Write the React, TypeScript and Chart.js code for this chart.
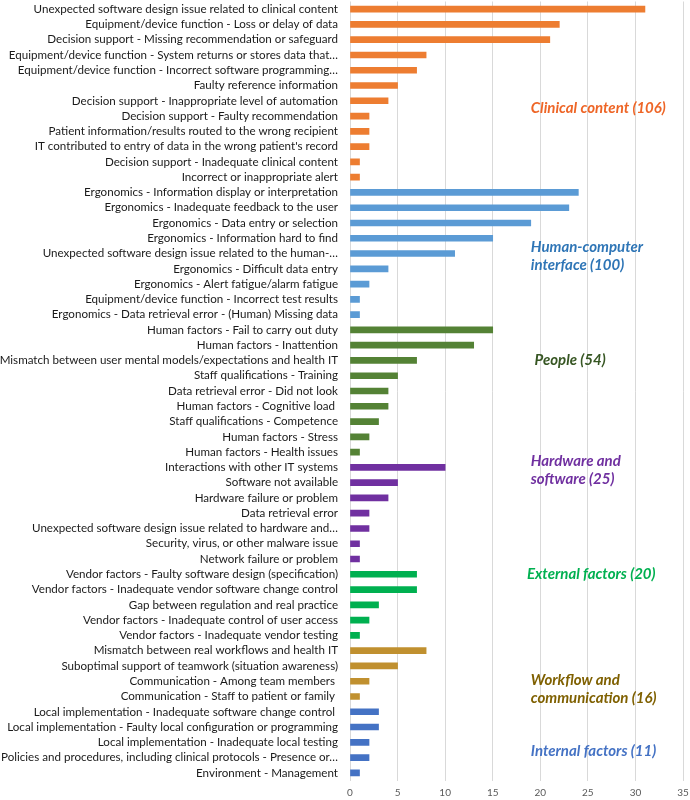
import React, { useEffect, useRef } from "react";
import { Chart, registerables } from "chart.js";

Chart.register(...registerables);

const clinicalLabels = [
  "Unexpected software design issue related to clinical content",
  "Equipment/device function - Loss or delay of data",
  "Decision support - Missing recommendation or safeguard",
  "Equipment/device function - System returns or stores data that…",
  "Equipment/device function - Incorrect software programming…",
  "Faulty reference information",
  "Decision support - Inappropriate level of automation",
  "Decision support - Faulty recommendation",
  "Patient information/results routed to the wrong recipient",
  "IT contributed to entry of data in the wrong patient's record",
  "Decision support - Inadequate clinical content",
  "Incorrect or inappropriate alert",
];
const clinicalValues = [31, 22, 21, 8, 7, 5, 4, 2, 2, 2, 1, 1];

const hciLabels = [
  "Ergonomics - Information display or interpretation",
  "Ergonomics - Inadequate feedback to the user",
  "Ergonomics - Data entry or selection",
  "Ergonomics - Information hard to find",
  "Unexpected software design issue related to the human-…",
  "Ergonomics - Difficult data entry",
  "Ergonomics - Alert fatigue/alarm fatigue",
  "Equipment/device function - Incorrect test results",
  "Ergonomics - Data retrieval error - (Human) Missing data",
];
const hciValues = [24, 23, 19, 15, 11, 4, 2, 1, 1];

const peopleLabels = [
  "Human factors - Fail to carry out duty",
  "Human factors - Inattention",
  "Mismatch between user mental models/expectations and health IT",
  "Staff qualifications - Training",
  "Data retrieval error - Did not look",
  "Human factors - Cognitive load ",
  "Staff qualifications - Competence",
  "Human factors - Stress",
  "Human factors - Health issues",
];
const peopleValues = [15, 13, 7, 5, 4, 4, 3, 2, 1];

const hwswLabels = [
  "Interactions with other IT systems",
  "Software not available",
  "Hardware failure or problem",
  "Data retrieval error",
  "Unexpected software design issue related to hardware and…",
  "Security, virus, or other malware issue",
  "Network failure or problem",
];
const hwswValues = [10, 5, 4, 2, 2, 1, 1];

const externalLabels = [
  "Vendor factors - Faulty software design (specification)",
  "Vendor factors - Inadequate vendor software change control",
  "Gap between regulation and real practice",
  "Vendor factors - Inadequate control of user access",
  "Vendor factors - Inadequate vendor testing",
];
const externalValues = [7, 7, 3, 2, 1];

const workflowLabels = [
  "Mismatch between real workflows and health IT",
  "Suboptimal support of teamwork (situation awareness)",
  "Communication - Among team members ",
  "Communication - Staff to patient or family ",
];
const workflowValues = [8, 5, 2, 1];

const internalLabels = [
  "Local implementation - Inadequate software change control ",
  "Local implementation - Faulty local configuration or programming",
  "Local implementation - Inadequate local testing",
  "Policies and procedures, including clinical protocols - Presence or…",
  "Environment - Management",
];
const internalValues = [3, 3, 2, 2, 1];

const xTicks = [0, 5, 10, 15, 20, 25, 30, 35];

// group title lines (total appended from data)
const GROUPS = [
  { title: ["Clinical content"], labels: clinicalLabels, values: clinicalValues, bar: "#ED7D31", text: "#EE6526", at: 6.5, x: 19.0 },
  { title: ["Human-computer", "interface"], labels: hciLabels, values: hciValues, bar: "#5B9BD5", text: "#2E75B6", at: 16.2, x: 19.0 },
  { title: ["People"], labels: peopleLabels, values: peopleValues, bar: "#548235", text: "#375623", at: 23, x: 19.4 },
  { title: ["Hardware and", "software"], labels: hwswLabels, values: hwswValues, bar: "#7030A0", text: "#7030A0", at: 30.2, x: 19.0 },
  { title: ["External factors"], labels: externalLabels, values: externalValues, bar: "#00B050", text: "#00B050", at: 37, x: 18.6 },
  { title: ["Workflow and", "communication"], labels: workflowLabels, values: workflowValues, bar: "#C0902F", text: "#7F6000", at: 44.5, x: 19.0 },
  { title: ["Internal factors"], labels: internalLabels, values: internalValues, bar: "#4472C4", text: "#4472C4", at: 48.6, x: 19.0 },
];

const FONT = "Lato, 'Open Sans', sans-serif";

export default function App() {
  const ref = useRef<HTMLCanvasElement | null>(null);

  useEffect(() => {
    if (!ref.current) return;
    const labels: string[] = [];
    const values: number[] = [];
    const colors: string[] = [];
    GROUPS.forEach((g) => {
      g.labels.forEach((l, i) => {
        labels.push(l);
        values.push(g.values[i]);
        colors.push(g.bar);
      });
    });

    const groupLabelPlugin = {
      id: "groupLabels",
      afterDatasetsDraw(chart: any) {
        const ctx = chart.ctx;
        const xs = chart.scales.x;
        const ys = chart.scales.y;
        ctx.save();
        ctx.font = `italic bold 15px ${FONT}`;
        ctx.textAlign = "left";
        ctx.textBaseline = "middle";
        const lh = 18;
        GROUPS.forEach((g) => {
          const total = g.values.reduce((a, b) => a + b, 0);
          const lines = g.title.slice();
          lines[lines.length - 1] = `${lines[lines.length - 1]} (${total})`;
          const cy = ys.getPixelForValue(g.at);
          const x = xs.getPixelForValue(g.x);
          const y0 = cy - ((lines.length - 1) * lh) / 2;
          ctx.fillStyle = g.text;
          lines.forEach((ln, i) => ctx.fillText(ln, x, y0 + i * lh));
        });
        ctx.restore();
      },
    };

    const chart = new Chart(ref.current, {
      type: "bar",
      data: {
        labels,
        datasets: [
          {
            data: values,
            backgroundColor: colors,
            barThickness: 6,
            borderWidth: 0,
          },
        ],
      },
      options: {
        indexAxis: "y",
        animation: false,
        responsive: true,
        maintainAspectRatio: false,
        layout: { padding: { top: 1.5, right: 7, bottom: 0, left: 0 } },
        plugins: {
          legend: { display: false },
          tooltip: { enabled: false },
        },
        scales: {
          x: {
            min: 0,
            max: 35,
            afterBuildTicks: (s: any) => {
              s.ticks = xTicks.map((v) => ({ value: v }));
            },
            afterFit: (s: any) => {
              s.height = 19.5;
              s.paddingLeft = 0;
              s.paddingRight = 0;
            },
            ticks: {
              color: "#595959",
              font: { family: FONT, size: 10 },
              padding: 6,
            },
            grid: { color: "#D9D9D9", lineWidth: 1, drawTicks: false },
            border: { display: false },
          },
          y: {
            afterFit: (s: any) => {
              s.width = 350;
              s.paddingTop = 0;
              s.paddingBottom = 0;
            },
            ticks: {
              color: "#1a1a1a",
              font: { family: FONT, size: 11.6 },
              padding: 12,
              autoSkip: false,
            },
            grid: { display: false, drawTicks: false },
            border: { display: false },
          },
        },
      },
      plugins: [groupLabelPlugin],
    });
    return () => chart.destroy();
  }, []);

  return (
    <div style={{ position: "absolute", left: 0, top: 0, width: 690, height: 800 }}>
      <canvas ref={ref} />
    </div>
  );
}
